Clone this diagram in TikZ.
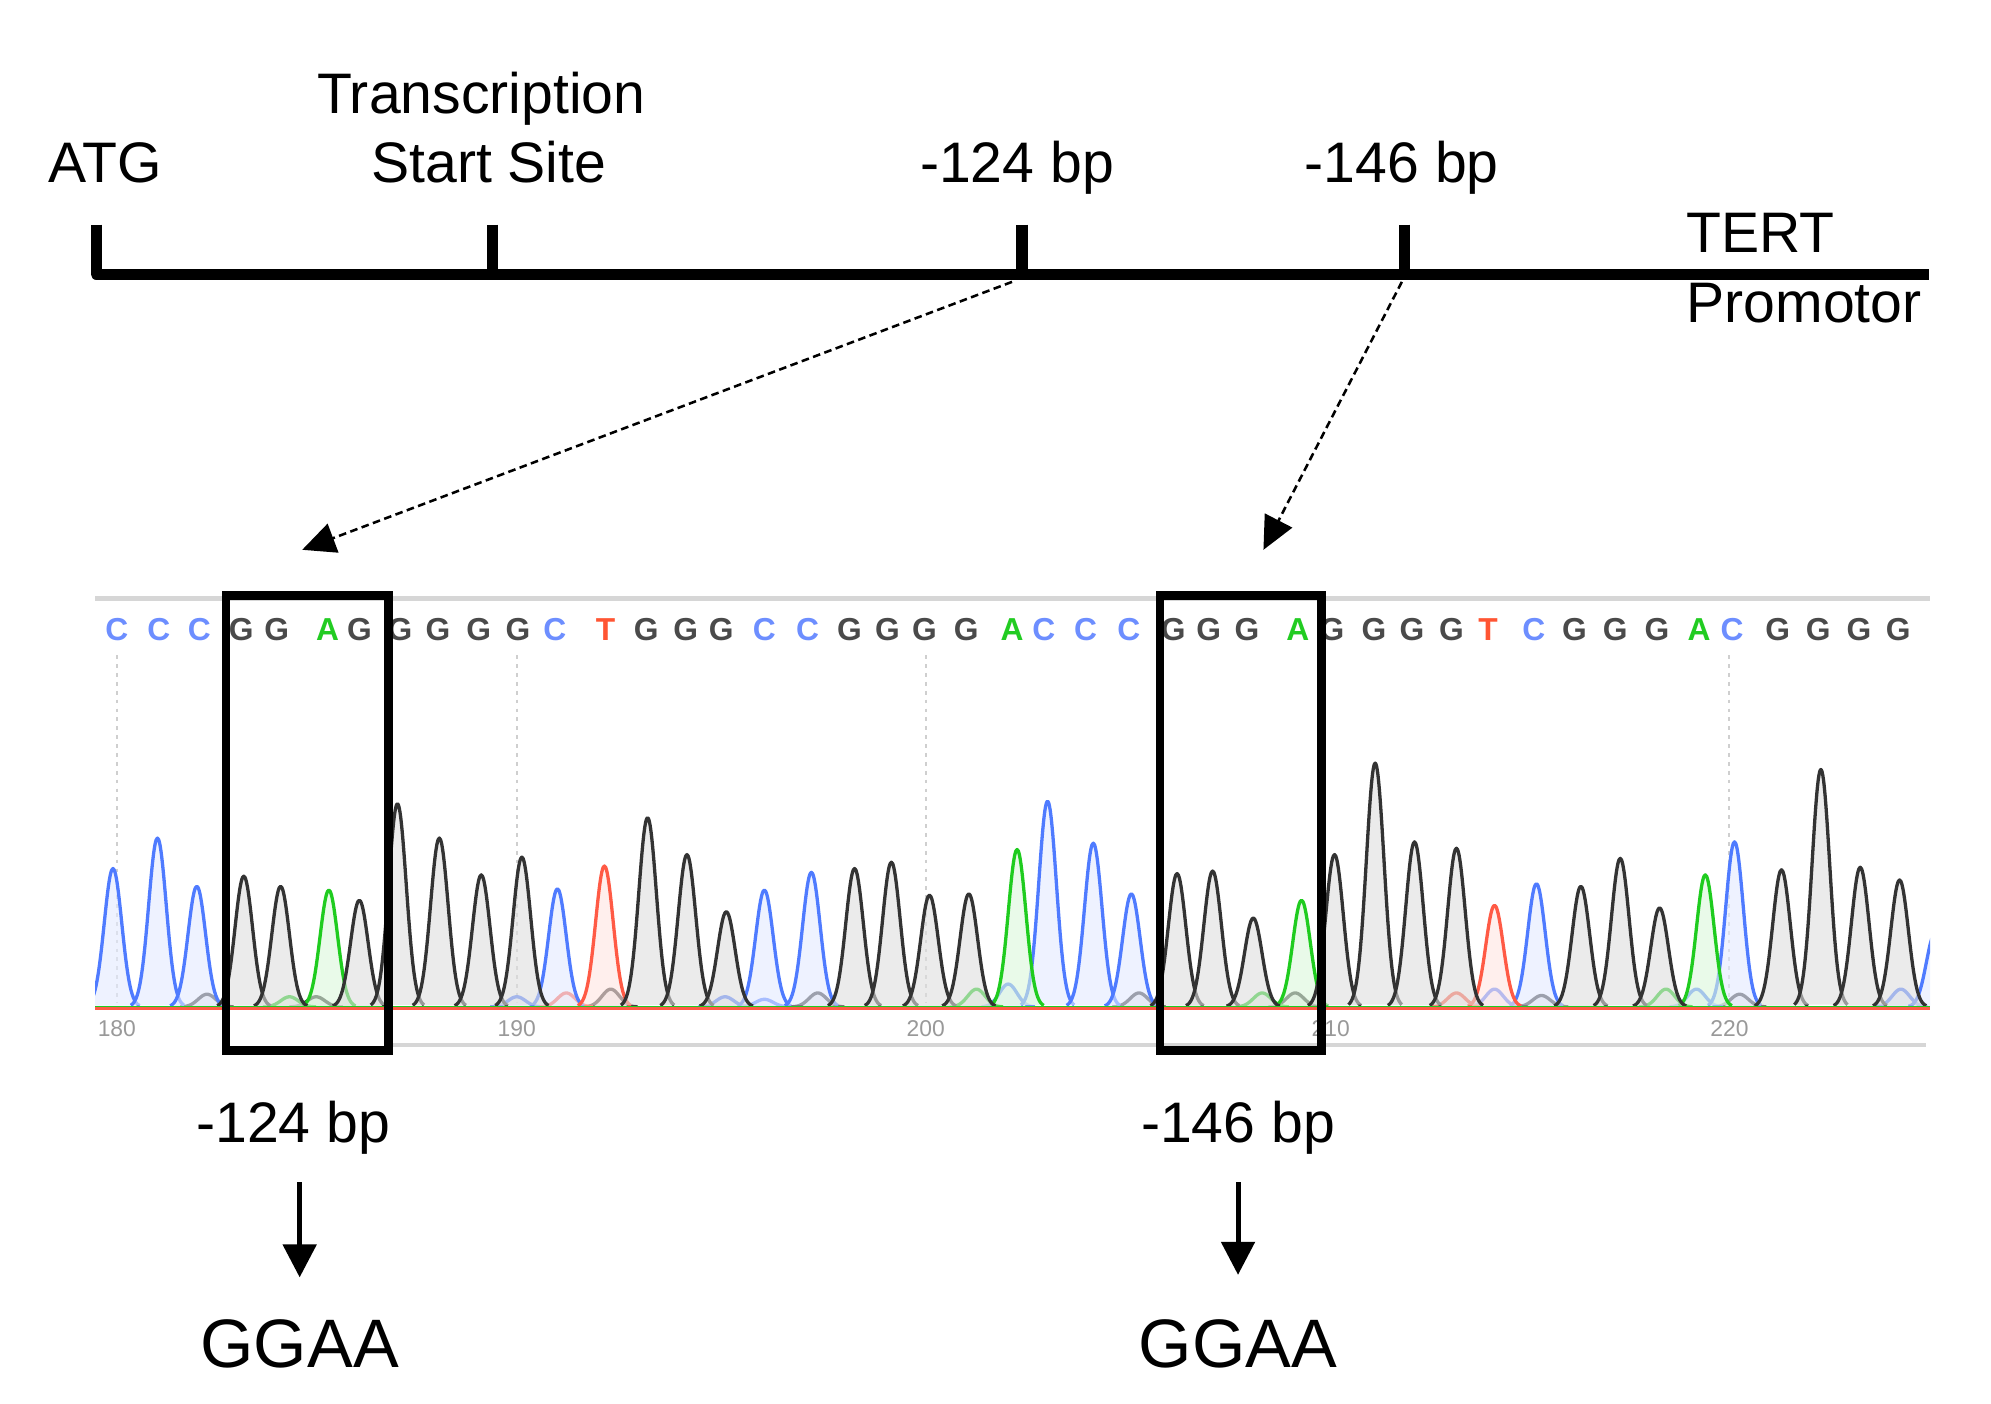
\documentclass[tikz,border=0pt]{standalone}
\usepackage{fontspec}
\setmainfont{Liberation Sans}
\usetikzlibrary{arrows.meta}
\definecolor{tblue}{HTML}{4F7BFF}
\definecolor{tgreen}{HTML}{1FCC1F}
\definecolor{tred}{HTML}{FF5A45}
\definecolor{tblack}{HTML}{333333}
\definecolor{lblue}{HTML}{6D8EFF}
\definecolor{lgray}{HTML}{4A4A4A}
\definecolor{lgreen}{HTML}{22CC22}
\definecolor{lred}{HTML}{FF5533}
\definecolor{gridgray}{HTML}{CFCFCF}
\definecolor{axgray}{HTML}{999999}
\definecolor{rulegray}{HTML}{D6D6D6}
\newcommand\trpeak[3]{%
  \pgfmathsetmacro\pa{#2-21}\pgfmathsetmacro\pb{#2+21}\pgfmathsetmacro\ph{793-#3}%
  \filldraw[draw=#1, fill=#1!16, fill opacity=0.6, draw opacity=1, line width=2.6pt, line join=round]
    plot[domain=\pa:\pb, samples=43, smooth] (\x,{793-\ph*exp(-0.5*((\x-#2)/6.9)^2)});
}
\begin{document}
\begin{tikzpicture}[x=1pt,y=-1pt,
  lbl/.style={font=\fontsize{45}{50}\selectfont, inner sep=0pt, anchor=base},
  big/.style={font=\fontsize{54}{60}\selectfont, inner sep=0pt, anchor=base},
  basecall/.style={font=\fontsize{25}{25}\selectfont\bfseries, inner sep=0pt},
  axn/.style={font=\fontsize{18}{18}\selectfont, text=axgray, inner sep=0pt},
  axisline/.style={line width=9pt},
  dasharrow/.style={line width=2pt, dash pattern=on 6pt off 3.5pt, -{Triangle[length=26pt,width=24pt]}},
  downarrow/.style={line width=4pt, -{Triangle[length=26pt,width=26pt]}},
  hibox/.style={draw, line width=7pt, inner sep=0pt, minimum width=128pt, minimum height=358pt},
  gridln/.style={gridgray, line width=1.5pt, dash pattern=on 3pt off 4pt},
]
\fill[white] (0,0) rectangle (1568,1105);
\useasboundingbox (0,0) rectangle (1568,1105);

% ---------- promoter map ----------
\coordinate (tATG) at (76,216);
\coordinate (tTSS) at (388,216);
\coordinate (t124) at (805,216);
\coordinate (t146) at (1106,216);
\coordinate (tEnd) at (1519,216);
\draw[axisline, line join=round] (76,177) -- (tATG) -- (tEnd);
\draw[axisline] (388,177) -- (tTSS);
\draw[axisline] (805,177) -- (t124);
\draw[axisline] (1106,177) -- (t146);

\node[lbl] (atg) at (83,144) {ATG};
\node[lbl] (tss1) at (379,89) {Transcription};
\node[lbl] (tss2) at (385,144) {Start Site};
\node[lbl] (m124) at (801,144) {-124 bp};
\node[lbl] (m146) at (1104,144) {-146 bp};
\node[lbl, anchor=base west] (tert) at (1328,199) {TERT};
\node[lbl, anchor=base west] (prom) at (1328,254) {Promotor};

\coordinate (s124) at (797,222);
\coordinate (e124) at (238,433);
\coordinate (s146) at (1104,222);
\coordinate (e146) at (995,433);
\draw[dasharrow] (s124) -- (e124);
\draw[dasharrow] (s146) -- (e146);

% ---------- chromatogram ----------
\draw[rulegray, line width=4pt] (75,471) -- (1520,471);
\draw[rulegray, line width=3pt] (306,823) -- (1517,823);
\foreach \gx in {92,407,729,1362} {\draw[gridln] (\gx,516) -- (\gx,790);}

\begin{scope}
\clip (75,480) rectangle (1520,800);
% small secondary peaks
\foreach \cx/\cy in {163/783,249/785,481/779,644/782,897/782,1020/782,1214/784,1370/783} {\trpeak{tblack}{\cx}{\cy}}
\foreach \cx/\cy in {407/785,571/785,794/775,1177/779,1336/779,1497/779,602/787} {\trpeak{tblue}{\cx}{\cy}}
\foreach \cx/\cy in {228/785,769/779,994/782,1312/779} {\trpeak{tgreen}{\cx}{\cy}}
\foreach \cx/\cy in {446/782,1147/782} {\trpeak{tred}{\cx}{\cy}}
% main peaks
\foreach \cx/\cy in {89/684,124/660,155/698,439/700,602/701,639/687,825/631,861/664,891/704,1210/696,1366/663,1524/735} {\trpeak{tblue}{\cx}{\cy}}
\foreach \cx/\cy in {259/701,801/669,1025/709,1343/689} {\trpeak{tgreen}{\cx}{\cy}}
\foreach \cx/\cy in {476/682,1177/713} {\trpeak{tred}{\cx}{\cy}}
\foreach \cx/\cy in {192/690,221/698,283/709,313/633,346/660,379/689,411/675,510/644,541/673,572/718,673/684,702/679,732/705,763/704,927/688,955/686,987/723,1051/673,1083/601,1114/663,1147/668,1245/698,1276/676,1307/715,1403/685,1434/606,1465/683,1496/693} {\trpeak{tblack}{\cx}{\cy}}
\draw[tgreen, line width=1.4pt] (75,793) -- (1520,793);
\draw[tblue, line width=1.2pt] (75,794.5) -- (1520,794.5);
\draw[tred, line width=2.6pt] (75,794) -- (1520,794);
\end{scope}

\foreach \lx/\lt/\lc in {92/C/lblue,125/C/lblue,157/C/lblue,190/G/lgray,218/G/lgray,258/A/lgreen,283/G/lgray,315/G/lgray,345/G/lgray,377/G/lgray,408/G/lgray,437/C/lblue,477/T/lred,509/G/lgray,540/G/lgray,568/G/lgray,602/C/lblue,636/C/lblue,669/G/lgray,699/G/lgray,728/G/lgray,761/G/lgray,797/A/lgreen,822/C/lblue,855/C/lblue,889/C/lblue,924/G/lgray,952/G/lgray,982/G/lgray,1022/A/lgreen,1049/G/lgray,1082/G/lgray,1112/G/lgray,1143/G/lgray,1172/T/lred,1208/C/lblue,1240/G/lgray,1272/G/lgray,1305/G/lgray,1338/A/lgreen,1364/C/lblue,1400/G/lgray,1432/G/lgray,1464/G/lgray,1495/G/lgray}
  {\node[basecall, text=\lc] (b\lx) at (\lx,496) {\lt};}

\node[axn] (n180) at (92,810) {180};
\node[axn] (n190) at (407,810) {190};
\node[axn] (n200) at (729,810) {200};
\node[axn] (n210) at (1048,810) {210};
\node[axn] (n220) at (1362,810) {220};

\node[hibox] (box1) at (242,648) {};
\node[hibox, minimum width=127pt] (box2) at (977,648) {};

% ---------- results ----------
\node[lbl] (l124) at (231,900) {-124 bp};
\node[lbl] (l146) at (975,900) {-146 bp};
\coordinate (d1s) at (236,931);
\coordinate (d1e) at (236,1006);
\coordinate (d2s) at (975,931);
\coordinate (d2e) at (975,1004);
\draw[downarrow] (d1s) -- (d1e);
\draw[downarrow] (d2s) -- (d2e);
\node[big] (g1) at (236,1077) {GGAA};
\node[big] (g2) at (975,1077) {GGAA};
\end{tikzpicture}
\end{document}
